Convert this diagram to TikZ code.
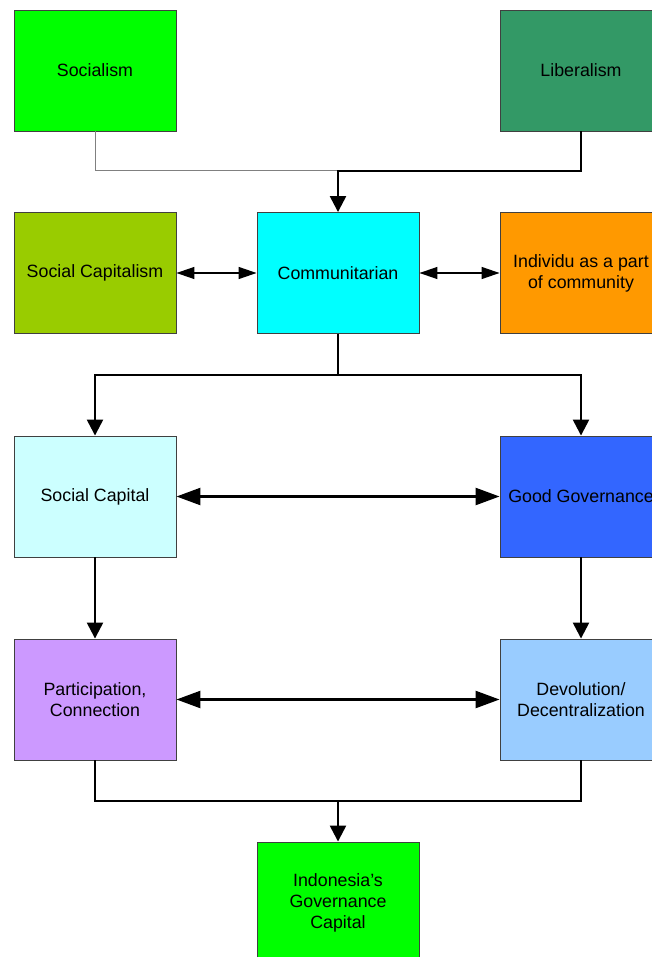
\documentclass[tikz,border=0pt]{standalone}
\usepackage{fontspec}
\setmainfont{Liberation Sans}
\usetikzlibrary{arrows.meta}

\definecolor{cGreen}{HTML}{00FF00}
\definecolor{cSea}{HTML}{339966}
\definecolor{cOlive}{HTML}{99CC00}
\definecolor{cCyan}{HTML}{00FFFF}
\definecolor{cOrange}{HTML}{FF9900}
\definecolor{cPale}{HTML}{CCFFFF}
\definecolor{cBlue}{HTML}{3366FF}
\definecolor{cLilac}{HTML}{CC99FF}
\definecolor{cSky}{HTML}{99CCFF}

\tikzset{
  box/.style={draw=black!75, line width=0.9pt, minimum width=162pt, minimum height=121pt,
    inner sep=0pt, align=center, font=\fontsize{17.8}{21}\selectfont},
  link/.style={line width=2.4pt},
  thinlink/.style={line width=1.3pt},
  down/.style={link, -{Triangle[length=16pt,width=16pt]}},
  both/.style={link, {Triangle[length=24pt,width=17pt]}-{Triangle[length=24pt,width=17pt]}},
  bothsmall/.style={thinlink, {Triangle[length=18pt,width=12pt]}-{Triangle[length=18pt,width=12pt]}}
}

\begin{document}
\begin{tikzpicture}[x=1pt,y=-1pt]
\useasboundingbox (0,0) rectangle (652,957);
\clip (0,0) rectangle (652,957);

% top row
\node[box, fill=cGreen] (soc) at (95, 70.5) {Socialism};
\node[box, fill=cSea] (lib) at (581, 70.5) {Liberalism};

% second row
\node[box, fill=cOlive] (scap) at (95, 273) {Social Capitalism};
\node[box, fill=cCyan] (comm) at (338, 273) {Communitarian};
\node[box, fill=cOrange] (ind) at (581, 273) {Individu as a part\\of community};

% third and fourth rows
\node[box, fill=cPale] (scl) at (95, 496.5) {Social Capital};
\node[box, fill=cBlue] (gg) at (581, 496.5) {Good Governance};
\node[box, fill=cLilac] (part) at (95, 699.5) {Participation,\\Connection};
\node[box, fill=cSky] (dev) at (581, 699.5) {Devolution/\\Decentralization};

% bottom
\node[box, fill=cGreen] (indo) at (338, 902.5) {Indonesia’s\\Governance\\Capital};

\coordinate (top) at (338, 171);
\coordinate (split) at (338, 375);
\coordinate (join) at (338, 801);

\draw[gray, line width=1pt] (soc.south) |- (top);
\draw[down] (lib.south) |- (top) -- (comm.north);

\draw[bothsmall] (scap.east) -- (comm.west);
\draw[bothsmall] (comm.east) -- (ind.west);

\draw[link] (comm.south) -- (split);
\draw[down] (split) -| (scl.north);
\draw[down] (split) -| (gg.north);

\draw[both] (scl.east) -- (gg.west);
\draw[down] (scl.south) -- (part.north);
\draw[down] (gg.south) -- (dev.north);
\draw[both] (part.east) -- (dev.west);

\draw[link] (part.south) |- (join);
\draw[link] (dev.south) |- (join);
\draw[down] (join) -- (indo.north);
\end{tikzpicture}
\end{document}
